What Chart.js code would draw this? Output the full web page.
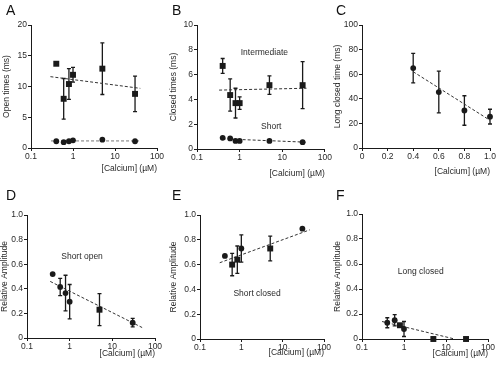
<!DOCTYPE html>
<html>
<head>
<meta charset="utf-8">
<script src="https://cdn.jsdelivr.net/npm/chart.js@4.4.0/dist/chart.umd.min.js"></script>
<style>
  body { margin: 0; background: #fff; }
  #wrap { position: relative; width: 500px; height: 365px; overflow: hidden; background: #fff; }
  canvas { position: absolute; }
  .tag { position: absolute; font: 14px "Liberation Sans", Arial, sans-serif; color: #111; line-height: 1; }
</style>
</head>
<body>
<div id="wrap">
  <canvas id="cA"></canvas>
  <canvas id="cB"></canvas>
  <canvas id="cC"></canvas>
  <canvas id="cD"></canvas>
  <canvas id="cE"></canvas>
  <canvas id="cF"></canvas>
  <div class="tag" style="left:6px;top:3px">A</div>
  <div class="tag" style="left:172px;top:3px">B</div>
  <div class="tag" style="left:336px;top:3px">C</div>
  <div class="tag" style="left:6px;top:188px">D</div>
  <div class="tag" style="left:172px;top:188px">E</div>
  <div class="tag" style="left:336px;top:188px">F</div>
</div>
<script>
// calcium concentrations (uM)
const calcium = [0.4, 0.6, 0.8, 1, 5, 30];
const calciumC = [0.4, 0.6, 0.8, 1.0];
const logTicks = [0.1, 1, 10, 100];

// A: open times (ms)
const openLong = [13.7, 8.0, 10.4, 11.9, 12.9, 8.8];
const openLongErr = [0, 3.3, 2.5, 1.2, 4.2, 2.9];
const openShort = [1.1, 0.95, 1.1, 1.25, 1.35, 1.1];
const openLongFitX = [0.29, 40], openLongFitY = [11.6, 9.7];
const openShortFitX = [0.3, 40], openShortFitY = [1.15, 1.15];
const ticksA = [0, 5, 10, 15, 20];

// B: closed times (ms)
const closedInter = [6.7, 4.35, 3.7, 3.7, 5.15, 5.15];
const closedInterErr = [0.6, 1.3, 1.2, 0.5, 0.75, 1.9];
const closedShort = [0.9, 0.85, 0.65, 0.65, 0.65, 0.55];
const closedInterFitX = [0.33, 37], closedInterFitY = [4.75, 4.9];
const closedShortFitX = [0.4, 37], closedShortFitY = [0.82, 0.55];
const ticksB = [0, 2, 4, 6, 8, 10];

// C: long closed time (ms)
const longClosed = [65, 45.5, 30.5, 25.5];
const longClosedErr = [12, 17, 12, 6];
const longClosedFitX = [0.4, 1.0], longClosedFitY = [62, 22.5];
const ticksC = [0, 20, 40, 60, 80, 100];
const ticksCx = [0, 0.2, 0.4, 0.6, 0.8, 1.0];

// D, E, F: relative amplitude
const ampShortOpen = [0.52, 0.415, 0.365, 0.295, 0.23, 0.125];
const ampShortOpenErr = [0, 0.07, 0.145, 0.14, 0.13, 0.035];
const ampShortOpenFitX = [0.35, 50], ampShortOpenFitY = [0.46, 0.085];
const ampShortClosed = [0.67, 0.60, 0.64, 0.73, 0.73, 0.89];
const ampShortClosedErr = [0, 0.09, 0.11, 0.11, 0.10, 0];
const ampShortClosedFitX = [0.3, 45], ampShortClosedFitY = [0.615, 0.88];
const ampLongClosed = [0.13, 0.15, 0.11, 0.08, 0.0, 0.0];
const ampLongClosedErr = [0.04, 0.045, 0, 0.06, 0, 0];
const ampLongClosedFitX = [0.3, 16], ampLongClosedFitY = [0.14, 0];
const ticksAmp = [0, 0.2, 0.4, 0.6, 0.8, 1.0];

const FONT = '"Liberation Sans", Arial, sans-serif';
const TXT = '#2a2a2a';
const INK = '#1a1a1a';

function pts(xs, ys) { return xs.map((x, i) => ({ x, y: ys[i] })); }
const fmt1 = v => v === 0 ? '0' : v.toFixed(1);
const fmtPlain = v => String(v);

const errorBars = {
    id: 'errorBars',
    beforeDatasetsDraw(chart) {
        const { ctx, scales: { x, y } } = chart;
        chart.data.datasets.forEach(ds => {
            if (!ds.err) return;
            ctx.save();
            ctx.strokeStyle = INK;
            ctx.lineWidth = 1.3;
            ds.data.forEach((p, i) => {
                const e = ds.err[i];
                if (!e) return;
                const px = x.getPixelForValue(p.x);
                const top = y.getPixelForValue(p.y + e);
                const bot = y.getPixelForValue(p.y - e);
                ctx.beginPath();
                ctx.moveTo(px, top); ctx.lineTo(px, bot);
                ctx.moveTo(px - 2, top); ctx.lineTo(px + 2, top);
                ctx.moveTo(px - 2, bot); ctx.lineTo(px + 2, bot);
                ctx.stroke();
            });
            ctx.restore();
        });
    }
};

const notes = {
    id: 'notes',
    afterDatasetsDraw(chart, args, opts) {
        const { ctx, scales: { x, y } } = chart;
        (opts.items || []).forEach(n => {
            ctx.save();
            ctx.font = '8.5px ' + FONT;
            ctx.fillStyle = TXT;
            ctx.textAlign = 'center';
            ctx.textBaseline = 'middle';
            ctx.fillText(n.text, x.getPixelForValue(n.x), y.getPixelForValue(n.y));
            ctx.restore();
        });
    }
};

function axisBase(ticks, fmt) {
    return {
        afterBuildTicks: s => { s.ticks = ticks.map(v => ({ value: v })); },
        ticks: { callback: v => fmt(v), font: { family: FONT, size: 8.5 }, color: TXT, padding: 1, maxRotation: 0, autoSkip: false },
        grid: { display: true, drawOnChartArea: false, drawTicks: true, tickLength: 3, color: INK },
        border: { display: true, color: INK, width: 1 }
    };
}

// square markers need a larger radius to look the same size as the dots
function markers(xs, ys, err, style) {
    const styles = Array.isArray(style) ? style : xs.map(() => style);
    const radii = styles.map(s => s === 'rect' ? 4.2 : 2.9);
    return { data: pts(xs, ys), err, pointStyle: styles, pointRadius: radii, pointHoverRadius: radii,
             backgroundColor: INK, borderColor: INK, borderWidth: 0, showLine: false, clip: false };
}

function fit(xs, ys, color) {
    return { data: pts(xs, ys), showLine: true, borderColor: color || '#333', borderWidth: 1,
             borderDash: [3, 2], pointRadius: 0, fill: false };
}

function panel(id, box, area, cfg) {
    const cv = document.getElementById(id);
    cv.width = box.w; cv.height = box.h;
    cv.style.left = box.x + 'px'; cv.style.top = box.y + 'px';
    const xs = Object.assign(axisBase(cfg.xTicks, cfg.xFmt), {
        type: cfg.xLog ? 'logarithmic' : 'linear',
        min: cfg.xTicks[0], max: cfg.xTicks[cfg.xTicks.length - 1],
        title: { display: true, text: '[Calcium] (µM)', align: 'end', color: TXT,
                 font: { family: FONT, size: 8.5 }, padding: 0 },
        afterFit: s => { s.height = cfg.xh; }
    });
    const ys = Object.assign(axisBase(cfg.yTicks, cfg.yFmt), {
        type: 'linear',
        min: cfg.yTicks[0], max: cfg.yTicks[cfg.yTicks.length - 1],
        title: { display: true, text: cfg.yTitle, color: TXT,
                 font: { family: FONT, size: 8.5 }, padding: { top: cfg.yPad, bottom: 0 } },
        afterFit: s => { s.width = area.l - box.x; }
    });
    new Chart(cv, {
        type: 'scatter',
        data: { datasets: cfg.datasets },
        options: {
            responsive: false, animation: false, devicePixelRatio: 1,
            layout: { padding: { left: 0, top: area.t - box.y, right: box.x + box.w - area.r,
                                 bottom: box.y + box.h - area.b - cfg.xh } },
            plugins: { legend: { display: false }, tooltip: { enabled: false }, notes: { items: cfg.notes || [] } },
            scales: { x: xs, y: ys }
        },
        plugins: [errorBars, notes]
    });
}

const c = 'circle', r = 'rect';

panel('cA', { x: 0, y: 0, w: 167, h: 182 }, { l: 31, t: 25, r: 157, b: 148 }, {
    xLog: true, xTicks: logTicks, xFmt: fmtPlain, xh: 26,
    yTicks: ticksA, yFmt: fmtPlain, yTitle: 'Open times (ms)', yPad: 2,
    datasets: [
        markers(calcium, openLong, openLongErr, r),
        markers(calcium, openShort, null, c),
        fit(openLongFitX, openLongFitY),
        fit(openShortFitX, openShortFitY, '#777')
    ]
});

panel('cB', { x: 167, y: 0, w: 166, h: 182 }, { l: 197, t: 25, r: 326, b: 149 }, {
    xLog: true, xTicks: logTicks, xFmt: fmtPlain, xh: 30,
    yTicks: ticksB, yFmt: fmtPlain, yTitle: 'Closed times (ms)', yPad: 2,
    datasets: [
        markers(calcium, closedInter, closedInterErr, r),
        markers(calcium, closedShort, null, c),
        fit(closedInterFitX, closedInterFitY),
        fit(closedShortFitX, closedShortFitY)
    ],
    notes: [{ text: 'Intermediate', x: 3.8, y: 7.75 }, { text: 'Short', x: 5.5, y: 1.77 }]
});

panel('cC', { x: 333, y: 0, w: 167, h: 182 }, { l: 362, t: 25, r: 490, b: 148 }, {
    xLog: false, xTicks: ticksCx, xFmt: fmt1, xh: 29,
    yTicks: ticksC, yFmt: fmtPlain, yTitle: 'Long closed time (ms)', yPad: 0,
    datasets: [
        markers(calciumC, longClosed, longClosedErr, c),
        fit(longClosedFitX, longClosedFitY)
    ]
});

panel('cD', { x: 0, y: 182, w: 167, h: 183 }, { l: 27, t: 215, r: 155, b: 338 }, {
    xLog: true, xTicks: logTicks, xFmt: fmtPlain, xh: 21,
    yTicks: ticksAmp, yFmt: fmt1, yTitle: 'Relative Amplitude', yPad: 0,
    datasets: [
        markers(calcium, ampShortOpen, ampShortOpenErr, [c, c, c, c, r, c]),
        fit(ampShortOpenFitX, ampShortOpenFitY)
    ],
    notes: [{ text: 'Short open', x: 1.95, y: 0.665 }]
});

panel('cE', { x: 167, y: 182, w: 166, h: 183 }, { l: 200, t: 215, r: 324, b: 339 }, {
    xLog: true, xTicks: logTicks, xFmt: fmtPlain, xh: 19,
    yTicks: ticksAmp, yFmt: fmt1, yTitle: 'Relative Amplitude', yPad: 2,
    datasets: [
        markers(calcium, ampShortClosed, ampShortClosedErr, [c, r, r, c, r, c]),
        fit(ampShortClosedFitX, ampShortClosedFitY)
    ],
    notes: [{ text: 'Short closed', x: 2.4, y: 0.365 }]
});

panel('cF', { x: 333, y: 182, w: 167, h: 183 }, { l: 362, t: 214, r: 488, b: 339 }, {
    xLog: true, xTicks: logTicks, xFmt: fmtPlain, xh: 20,
    yTicks: ticksAmp, yFmt: fmt1, yTitle: 'Relative Amplitude', yPad: 0,
    datasets: [
        markers(calcium, ampLongClosed, ampLongClosedErr, [c, c, r, c, r, r]),
        fit(ampLongClosedFitX, ampLongClosedFitY)
    ],
    notes: [{ text: 'Long closed', x: 2.5, y: 0.54 }]
});
</script>
</body>
</html>
